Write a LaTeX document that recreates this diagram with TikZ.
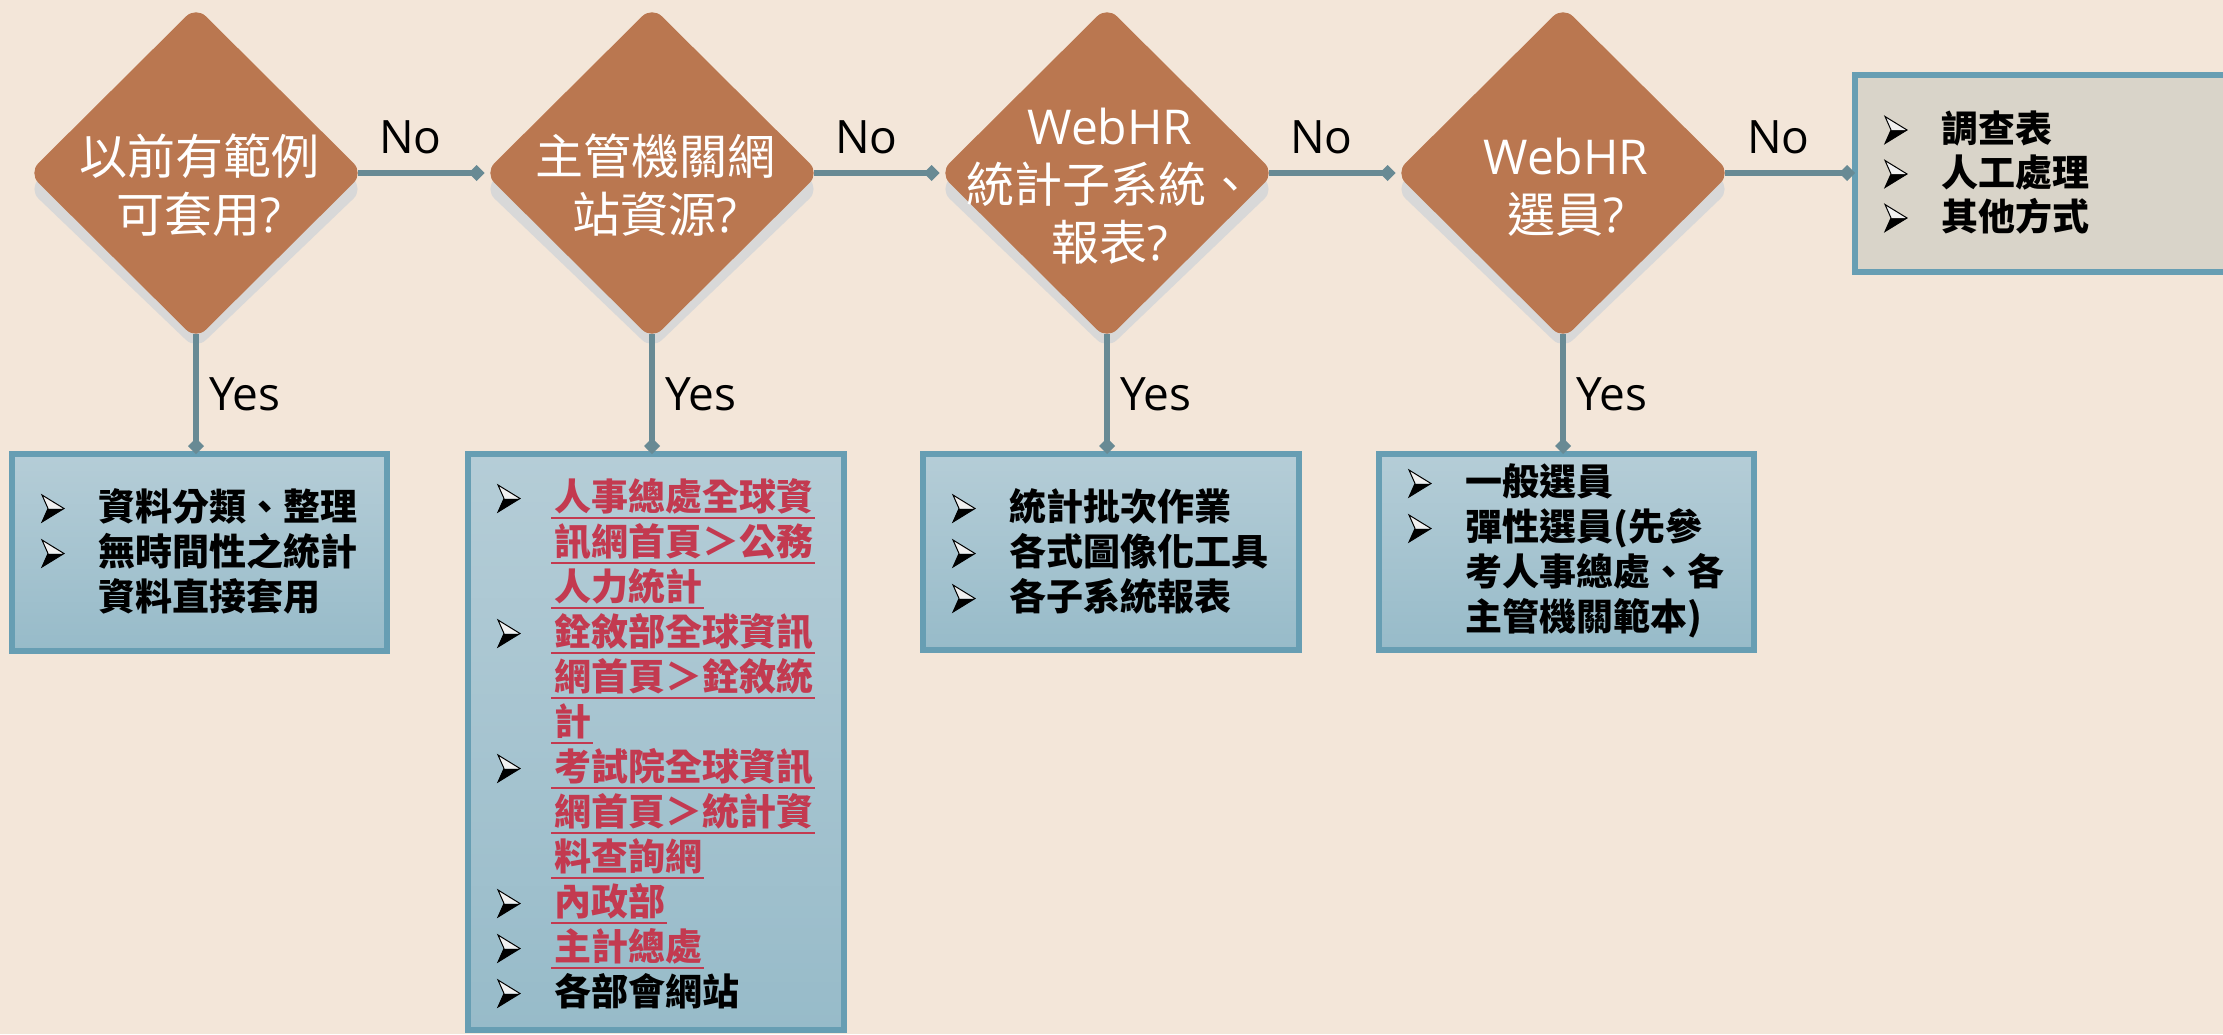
\documentclass[tikz,border=0pt]{standalone}
\usepackage{fontspec}
\newfontfamily\cjk{Noto Sans CJK TC}
\newfontfamily\lat{Open Sans}
\usetikzlibrary{shapes.geometric,arrows.meta}
\definecolor{bg}{HTML}{F3E6D9}
\definecolor{dfill}{HTML}{BA7750}
\definecolor{shad}{HTML}{D8D8D8}
\definecolor{conc}{HTML}{688A94}
\definecolor{bord}{HTML}{679EB3}
\definecolor{btop}{HTML}{B5CDD7}
\definecolor{bbot}{HTML}{97BBC9}
\definecolor{bfive}{HTML}{D9D4C9}
\definecolor{redt}{HTML}{C33A50}
\newcommand\redul[1]{\textcolor{redt}{\setbox0=\hbox{#1}\rlap{\kern-3pt\rule[-8.75pt]{\dimexpr\wd0+5pt\relax}{2.5pt}}\box0}}
\begin{document}
\begin{tikzpicture}[x=1pt,y=-1pt,
  dia/.style={shape=diamond, minimum width=335pt, minimum height=333pt, inner sep=0pt, outer sep=0pt, rounded corners=14pt, fill=dfill},
  dsh/.style={shape=diamond, minimum width=335pt, minimum height=321pt, inner sep=0pt, outer sep=0pt, rounded corners=14pt, fill=shad},
  qtext/.style={text=white, align=center, inner sep=0pt, font=\cjk\fontsize{48}{58}\selectfont},
  lbl/.style={anchor=base west, inner sep=0pt, font=\lat\fontsize{46}{50}\selectfont},
  box/.style={draw=bord, line width=6pt, top color=btop, bottom color=bbot, anchor=north west, inner sep=0pt, outer sep=0pt},
  boxgray/.style={draw=bord, line width=6pt, fill=bfive, anchor=north west, inner sep=0pt, outer sep=0pt},
  conn/.style={draw=conc, line width=6pt, -{Diamond[length=16pt,width=16pt]}, shorten <=-5.5pt},
  btext/.style={anchor=base west, inner sep=0pt, font=\cjk\bfseries\fontsize{37}{45}\selectfont},
  bul/.pic={
    \fill[black] (6,0) -- (22,0) -- (0,13.5) -- cycle;
    \fill[white!88!gray] (0,-13.5) -- (22,0) -- (6,0) -- cycle;
    \draw[black, line width=1pt, line join=miter] (0,-13.5) -- (22,0) -- (0,13.5) -- (6,0) -- cycle;
  }
]
\useasboundingbox (0,0) rectangle (2223,1034);
\clip (0,0) rectangle (2223,1034);
\fill[bg] (0,0) rectangle (2223,1034);

% shadows
\node[dsh] (s1) at (196,189) {};
\node[dsh] (s2) at (652,189) {};
\node[dsh] (s3) at (1107,189) {};
\node[dsh] (s4) at (1563,189) {};

% decision diamonds
\node[dia] (d1) at (196,173) {};
\node[dia] (d2) at (652,173) {};
\node[dia] (d3) at (1107,173) {};
\node[dia] (d4) at (1563,173) {};

% boxes
\node[box, minimum width=375pt, minimum height=197pt] (b1) at (12,454) {};
\node[box, minimum width=376pt, minimum height=576pt] (b2) at (468,454) {};
\node[box, minimum width=376pt, minimum height=196pt] (b3) at (923,454) {};
\node[box, minimum width=375pt, minimum height=196pt] (b4) at (1379,454) {};
\node[boxgray, minimum width=385pt, minimum height=197pt] (b5) at (1855,75) {};

% connectors
\draw[conn] (d1.east) -- (d2.west);
\draw[conn] (d2.east) -- (d3.west);
\draw[conn] (d3.east) -- (d4.west);
\draw[conn] (d4.east) -- (d4.east -| b5.west);
\draw[conn] (d1.south) -- (d1.south |- b1.north);
\draw[conn] (d2.south) -- (d2.south |- b2.north);
\draw[conn] (d3.south) -- (d3.south |- b3.north);
\draw[conn] (d4.south) -- (d4.south |- b4.north);

% diamond texts
\node[qtext] (q1) at (199,185) {以前有範例\\可套用{\lat ?}};
\node[qtext] (q2) at (655,185) {主管機關網\\站資源{\lat ?}};
\node[qtext] (q3) at (1110,186) {{\lat WebHR}\\統計子系統、\\報表{\lat ?}};
\node[qtext] (q4) at (1566,187) {{\lat WebHR}\\選員{\lat ?}};

% labels
\node[lbl] (no1) at (379,153) {No};
\node[lbl] (no2) at (835,153) {No};
\node[lbl] (no3) at (1290,153) {No};
\node[lbl] (no4) at (1747,153) {No};
\node[lbl] (yes1) at (209,410) {Yes};
\node[lbl] (yes2) at (665,410) {Yes};
\node[lbl] (yes3) at (1120,410) {Yes};
\node[lbl] (yes4) at (1576,410) {Yes};

% box texts
\node[btext] (x1) at (98,520.5) {\vtop{\hbox{資料分類、整理}\hbox{無時間性之統計}\hbox{資料直接套用}}};
\node[btext] (x2) at (554,510.5) {\vtop{%
  \hbox{\redul{人事總處全球資}}%
  \hbox{\redul{訊網首頁＞公務}}%
  \hbox{\redul{人力統計}}%
  \hbox{\redul{銓敘部全球資訊}}%
  \hbox{\redul{網首頁＞銓敘統}}%
  \hbox{\redul{計}}%
  \hbox{\redul{考試院全球資訊}}%
  \hbox{\redul{網首頁＞統計資}}%
  \hbox{\redul{料查詢網}}%
  \hbox{\redul{內政部}}%
  \hbox{\redul{主計總處}}%
  \hbox{各部會網站}}};
\node[btext] (x3) at (1009,520.5) {\vtop{\hbox{統計批次作業}\hbox{各式圖像化工具}\hbox{各子系統報表}}};
\node[btext] (x4) at (1465,495.5) {\vtop{\hbox{一般選員}\hbox{彈性選員(先參}\hbox{考人事總處、各}\hbox{主管機關範本)}}};
\node[btext] (x5) at (1941,142) {\vtop{\baselineskip=44pt\hbox{調查表}\hbox{人工處理}\hbox{其他方式}}};

% bullets
\foreach \y in {508.5,553.5} \pic at (42,\y) {bul};
\foreach \y in {498.5,633.5,768.5,903.5,948.5,993.5} \pic at (498,\y) {bul};
\foreach \y in {508.5,553.5,598.5} \pic at (953,\y) {bul};
\foreach \y in {483.5,528.5} \pic at (1409,\y) {bul};
\foreach \y in {130,174,218} \pic at (1885,\y) {bul};
\end{tikzpicture}
\end{document}
